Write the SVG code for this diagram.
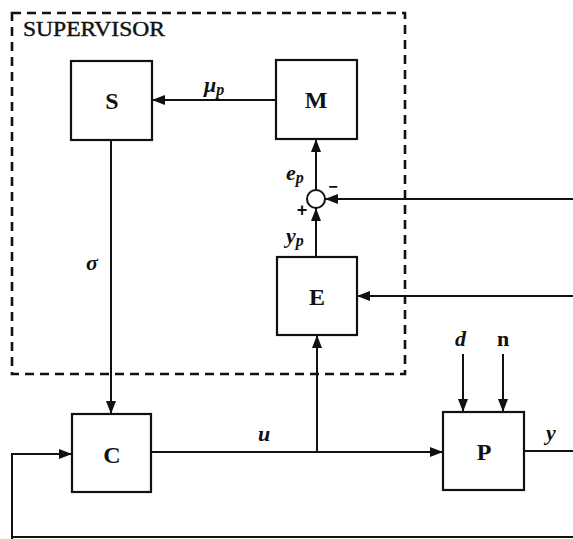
<svg xmlns="http://www.w3.org/2000/svg" width="573" height="539" viewBox="0 0 573 539">
<defs>
<marker id="ah" markerWidth="13" markerHeight="10" refX="13" refY="5" orient="auto" markerUnits="userSpaceOnUse">
<path d="M0,0 L13,5 L0,10 Z" fill="#111"/>
</marker>
<style>
.box{fill:#fff;stroke:#111;stroke-width:2.2}
.ln{fill:none;stroke:#111;stroke-width:2}
.blk{font-family:"Liberation Serif",serif;font-weight:bold;font-size:24px;fill:#111;text-anchor:middle}
.lab{font-family:"Liberation Serif",serif;font-weight:bold;font-style:italic;font-size:22px;fill:#111}
.sub{font-size:16px}
</style>
</defs>
<rect width="573" height="539" fill="#fff"/>
<rect x="12" y="13" width="393" height="361" fill="none" stroke="#111" stroke-width="2.6" stroke-dasharray="9,6"/>
<text x="23" y="36" font-family="Liberation Serif,serif" font-size="20" fill="#111" stroke="#111" stroke-width="0.4" textLength="142" lengthAdjust="spacingAndGlyphs">SUPERVISOR</text>
<g id="connectors">
<line class="ln" x1="276" y1="100" x2="152" y2="100" marker-end="url(#ah)"/>
<line class="ln" x1="111" y1="140" x2="111" y2="414" marker-end="url(#ah)"/>
<polyline class="ln" points="12,539 12,454 72,454" marker-end="url(#ah)"/>
<line class="ln" x1="151" y1="452" x2="443" y2="452" marker-end="url(#ah)"/>
<line class="ln" x1="317" y1="452" x2="317" y2="335" marker-end="url(#ah)"/>
<line class="ln" x1="573" y1="296" x2="357" y2="296" marker-end="url(#ah)"/>
<line class="ln" x1="316" y1="257" x2="316" y2="208" marker-end="url(#ah)"/>
<line class="ln" x1="573" y1="199" x2="325" y2="199" marker-end="url(#ah)"/>
<line class="ln" x1="316" y1="190" x2="316" y2="139" marker-end="url(#ah)"/>
<line class="ln" x1="463" y1="354" x2="463" y2="412" marker-end="url(#ah)"/>
<line class="ln" x1="503" y1="354" x2="503" y2="412" marker-end="url(#ah)"/>
<line class="ln" x1="524" y1="451" x2="573" y2="451"/>
<line class="ln" x1="12" y1="537" x2="573" y2="537" stroke-width="1.6"/>
</g>
<g id="S"><rect class="box" x="71" y="61" width="81" height="79"/><text class="blk" x="112" y="109">S</text></g>
<g id="M"><rect class="box" x="276" y="60" width="81" height="79"/><text class="blk" x="316" y="108">M</text></g>
<g id="E"><rect class="box" x="277" y="257" width="80" height="78"/><text class="blk" x="317" y="305">E</text></g>
<g id="C"><rect class="box" x="72" y="414" width="79" height="78"/><text class="blk" x="112" y="463">C</text></g>
<g id="P"><rect class="box" x="443" y="412" width="81" height="78"/><text class="blk" x="484" y="460">P</text></g>
<g id="sum"><circle cx="316" cy="199" r="9" fill="#fff" stroke="#111" stroke-width="2"/></g>
<text class="lab" x="204" y="92">μ<tspan class="sub" dy="3">p</tspan></text>
<text class="lab" x="86" y="270">σ</text>
<text class="lab" x="286" y="180">e<tspan class="sub" dy="3">p</tspan></text>
<text class="lab" x="286" y="243">y<tspan class="sub" dy="3">p</tspan></text>
<text x="333" y="192" font-family="Liberation Sans,sans-serif" font-weight="bold" font-size="16" fill="#111" text-anchor="middle">−</text>
<text x="302" y="216" font-family="Liberation Sans,sans-serif" font-weight="bold" font-size="18" fill="#111" text-anchor="middle">+</text>
<text class="lab" x="258" y="441">u</text>
<text class="lab" x="455" y="346">d</text>
<text x="503" y="346" font-family="Liberation Serif,serif" font-weight="bold" font-size="22" fill="#111" text-anchor="middle">n</text>
<text class="lab" x="546" y="440">y</text>
</svg>
